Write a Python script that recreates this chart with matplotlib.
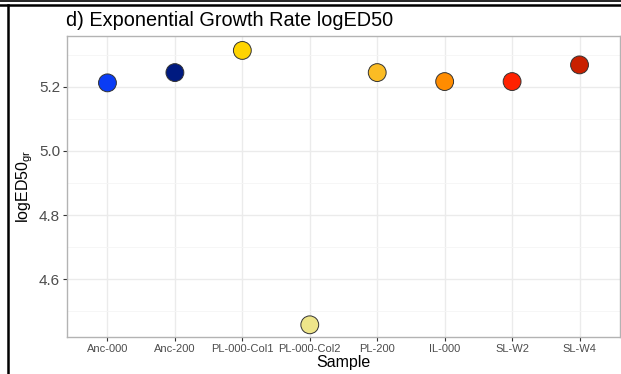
"""Dot chart: exponential growth rate logED50 per sample."""
import matplotlib.pyplot as plt
from matplotlib.lines import Line2D
import numpy as np

plt.rcParams["font.family"] = ["Liberation Sans", "DejaVu Sans"]

SAMPLES = ["Anc-000", "Anc-200", "PL-000-Col1", "PL-000-Col2", "PL-200",
           "IL-000", "SL-W2", "SL-W4"]
LOGED50 = [5.212, 5.244, 5.313, 4.458, 5.244, 5.216, 5.216, 5.268]
COLORS = ["#0a3cf5", "#001a80", "#ffd400", "#eee58a", "#fbbc24",
          "#ff8c00", "#ff2200", "#c92000"]
Y_TICKS = [4.6, 4.8, 5.0, 5.2]

GRID_MAJOR = "#ebebeb"
GRID_MINOR = "#f5f5f5"
BORDER = "#b3b3b3"
TICK_TEXT = "#4d4d4d"


def main():
    fig = plt.figure(figsize=(6.21, 3.74), dpi=100, facecolor="white")
    ax = fig.add_axes([67 / 621, 1 - 337 / 374, 553 / 621, 301 / 374])

    x = np.arange(len(SAMPLES))
    ax.set_xlim(-0.6, len(SAMPLES) - 0.4)
    ax.set_ylim(4.420, 5.358)

    ax.set_yticks(Y_TICKS)
    ax.set_yticks([4.5, 4.7, 4.9, 5.1, 5.3], minor=True)
    ax.set_yticklabels([f"{v:.1f}" for v in Y_TICKS])
    ax.set_xticks(x)
    ax.set_xticklabels(SAMPLES)

    ax.grid(True, which="major", color=GRID_MAJOR, linewidth=1.0, zorder=0)
    ax.grid(True, which="minor", axis="y", color=GRID_MINOR, linewidth=0.6, zorder=0)
    ax.set_axisbelow(True)
    for spine in ax.spines.values():
        spine.set_color(BORDER)
        spine.set_linewidth(1.0)

    ax.tick_params(axis="y", which="major", colors="#333333", labelcolor=TICK_TEXT,
                   labelsize=11, length=3, width=0.8, pad=2)
    ax.tick_params(axis="x", which="major", colors="#333333", labelcolor=TICK_TEXT,
                   labelsize=8, length=3, width=0.8, pad=2)
    ax.tick_params(which="minor", length=0)

    ax.scatter(x, LOGED50, s=165, c=COLORS, edgecolors="#333333", linewidths=0.7, zorder=3)

    ax.set_xlabel("Sample", fontsize=11.5, labelpad=1)
    ax.set_ylabel(r"logED50$_{\mathregular{gr}}$", fontsize=11.5, labelpad=3)
    fig.text(66 / 621, 1 - 20 / 374, "d) Exponential Growth Rate logED50",
             fontsize=14.3, ha="left", va="center")

    # frame lines from the surrounding figure
    fig.add_artist(Line2D([0, 1], [1 - 0.8 / 374, 1 - 0.8 / 374], color="black", linewidth=1.2))
    fig.add_artist(Line2D([0, 1], [1 - 4.5 / 374, 1 - 4.5 / 374], color="black", linewidth=1.8))
    fig.add_artist(Line2D([7.5 / 621, 7.5 / 621], [0, 1 - 4.5 / 374], color="black", linewidth=1.8))

    fig.savefig("out.png", dpi=100, facecolor="white")
    plt.close(fig)


if __name__ == "__main__":
    main()
